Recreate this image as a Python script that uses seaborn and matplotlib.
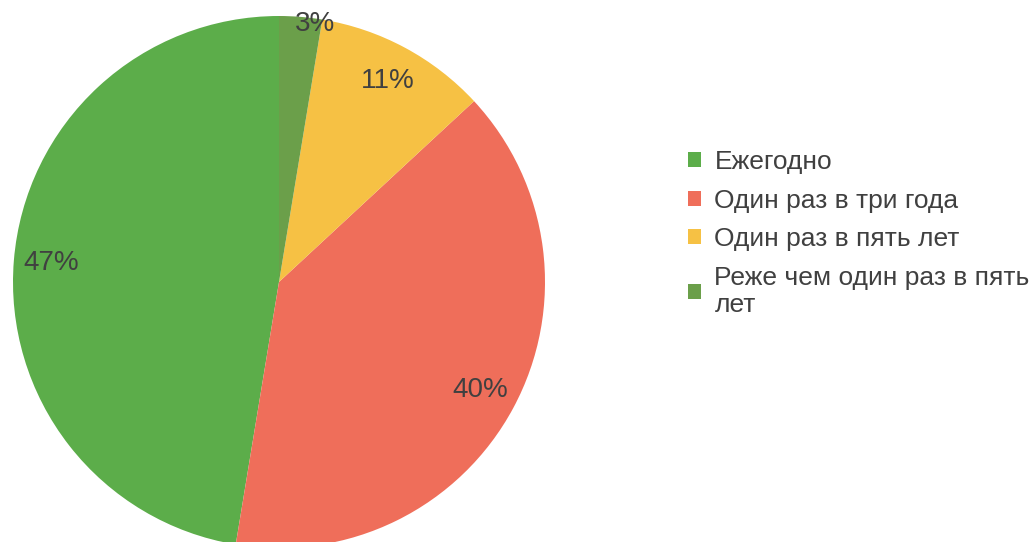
import matplotlib
matplotlib.use("Agg")
import numpy as np
import matplotlib.pyplot as plt
import seaborn as sns
from matplotlib.patches import Patch

# Данные диаграммы (доли оценены по углам секторов)
CATEGORIES = [
    "Ежегодно",
    "Один раз в три года",
    "Один раз в пять лет",
    "Реже чем один раз в пять\nлет",
]
SHARES = [47.4, 39.5, 10.5, 2.6]
PCT_LABELS = ["47%", "40%", "11%", "3%"]
COLORS = ["#5cad4a", "#ef6e5a", "#f6c144", "#6b9f4a"]

TEXT_COLOR = "#404040"

W, H = 1031, 542
CX, CY, R = 279, 282, 266

sns.set_theme(style="white")
plt.rcParams["font.family"] = ["Liberation Sans", "DejaVu Sans"]

fig = plt.figure(figsize=(W / 100, H / 100), dpi=100)
ax = fig.add_axes([(CX - R) / W, (H - CY - R) / H, 2 * R / W, 2 * R / H])

wedges, _ = ax.pie(
    SHARES,
    colors=COLORS,
    startangle=90,
    counterclock=True,
    wedgeprops={"linewidth": 0},
)
ax.set_xlim(-1, 1)
ax.set_ylim(-1, 1)
ax.set_aspect("equal")
ax.axis("off")

# подписи процентов внутри секторов
for wedge, label in zip(wedges, PCT_LABELS):
    mid = np.deg2rad((wedge.theta1 + wedge.theta2) / 2)
    dist = 0.86
    if label == "3%":
        # маленький сектор - подпись у края
        mid = np.deg2rad(wedge.theta2 - 8)
        dist = 0.98
    ax.text(
        dist * np.cos(mid), dist * np.sin(mid), label,
        ha="center", va="center", fontsize=20, color=TEXT_COLOR,
    )

handles = [Patch(facecolor=c, edgecolor="none") for c in COLORS]
fig.legend(
    handles, CATEGORIES,
    loc="upper left",
    bbox_to_anchor=(688 / W, 1 - 150 / H),
    frameon=False,
    fontsize=19,
    borderpad=0,
    borderaxespad=0,
    handlelength=0.5,
    handleheight=0.5,
    handletextpad=0.5,
    labelspacing=0.55,
    labelcolor=TEXT_COLOR,
)

fig.savefig("out.png", dpi=100)
plt.close(fig)
